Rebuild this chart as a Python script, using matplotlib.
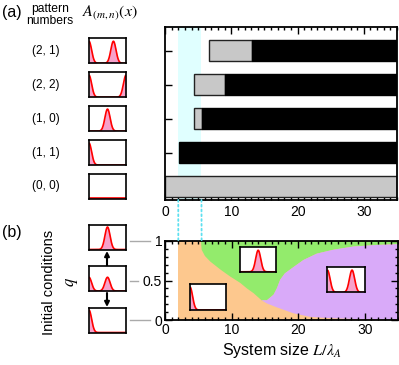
import numpy as np
import matplotlib
matplotlib.use("Agg")
import matplotlib.pyplot as plt
from matplotlib.patches import ConnectionPatch
from matplotlib.ticker import MultipleLocator

plt.rcParams["font.family"] = ["Liberation Sans", "DejaVu Sans"]
plt.rcParams["mathtext.fontset"] = "stix"

# ---------------- data ---------------- #
pattern_labels = ["(2, 1)", "(2, 2)", "(1, 0)", "(1, 1)", "(0, 0)"]
row_pos = [4, 3, 2, 1, 0]
gray_start = [6.6, 4.3, 4.3, np.nan, 0.0]
gray_end = [13.1, 9.0, 5.55, np.nan, 35.0]
black_start = [13.1, 9.0, 5.55, 2.1, np.nan]
x_max = 35.0
band = (2.0, 5.5)

# peak positions (fraction of box) for each pattern icon
pattern_peaks = [[0.0, 0.66], [0.0, 1.0], [0.5], [0.0], []]

# phase diagram boundaries (x = L/lambda_A, q)
og_x = [5.4, 5.5, 6.0, 6.8, 8.3, 9.8, 11.3, 12.3, 13.3, 14.5]
og_q = [1.0, 0.89, 0.81, 0.74, 0.64, 0.55, 0.47, 0.40, 0.34, 0.25]
gp_x = [14.5, 15.3, 16.3, 16.8, 17.3, 18.0, 19.3, 20.8, 22.8, 25.3, 28.3, 31.8, 35.0]
gp_q = [0.25, 0.25, 0.32, 0.40, 0.51, 0.59, 0.67, 0.76, 0.84, 0.89, 0.93, 0.95, 0.96]
op_x = [14.5, 15.3, 16.8, 19.3, 21.8, 24.3, 29.3, 35.0]
op_q = [0.25, 0.21, 0.16, 0.085, 0.04, 0.025, 0.01, 0.0]
orange_start = 2.0

# initial-condition icons, q ticks
q_ticks = [1.0, 0.5, 0.0]
q_tick_labels = ["1", "0.5", "0"]
init_peaks = [[0.5], [0.0, 0.5], [0.0]]
init_heights = [0.9, 0.55, 0.9]

C_ORANGE = "#FDC88E"
C_GREEN = "#93EB6C"
C_PURPLE = "#D9AAF9"
C_BAND = "#E0FFFF"
C_CYAN = "#5EE0F0"

W, H = 399, 365


def px(x, y):
    return x / W, 1 - y / H


def icon(fig, rect, peaks, height=0.88, flat=False):
    ax = fig.add_axes(rect)
    xs = np.linspace(0, 1, 200)
    ys = np.zeros_like(xs)
    for p in peaks:
        ys = ys + height * np.exp(-((xs - p) ** 2) / (2 * 0.07 ** 2))
    if flat:
        ys = ys + 0.03
    ax.fill_between(xs, 0, ys, color="#F7A1CB", lw=0)
    ax.plot(xs, ys, color="red", lw=1.2, solid_capstyle="butt")
    ax.set_xlim(0, 1)
    ax.set_ylim(0, 1)
    ax.set_xticks([])
    ax.set_yticks([])
    for s in ax.spines.values():
        s.set_linewidth(1.2)
    return ax


fig = plt.figure(figsize=(W / 100, H / 100), dpi=100)

# ---------------- (a) ---------------- #
ax1 = fig.add_axes([165 / W, 1 - 200 / H, 232 / W, 173 / H])
ax1.axvspan(*band, color=C_BAND, lw=0, zorder=0)
for y, gs, ge, bs in zip(row_pos, gray_start, gray_end, black_start):
    if not np.isnan(gs):
        ax1.barh(y, ge - gs, left=gs, height=0.62, color="#C8C8C8",
                 edgecolor="#222222", lw=1.0, zorder=2)
    if not np.isnan(bs):
        ax1.barh(y, x_max - bs, left=bs, height=0.62, color="black",
                 edgecolor="black", lw=1.0, zorder=2)
ax1.set_xlim(0, x_max)
ax1.set_ylim(-0.4, 4.7)
ax1.set_yticks(row_pos)
ax1.set_yticklabels([])
ax1.set_xticks([0, 10, 20, 30])
ax1.xaxis.set_minor_locator(MultipleLocator(1))
ax1.tick_params(axis="x", which="both", direction="in", top=True, labelsize=10)
ax1.tick_params(axis="x", which="major", length=5, width=1)
ax1.tick_params(axis="x", which="minor", length=2.5, width=1)
ax1.tick_params(axis="y", direction="in", length=5, width=1)
for s in ax1.spines.values():
    s.set_linewidth(1.3)

fig.text(*px(2, 13), "(a)", fontsize=11.5, ha="left", va="center")
fig.text(*px(50, 15), "pattern\nnumbers", fontsize=8.7, ha="center", va="center",
         linespacing=1.0)
fig.text(*px(110, 13), r"$A_{(m,n)}(x)$", fontsize=11.5, ha="center", va="center")

to_fig = fig.transFigure.inverted()
for lab, y, peaks in zip(pattern_labels, row_pos, pattern_peaks):
    _, yc = to_fig.transform(ax1.transData.transform((0, y)))
    fig.text(46 / W, yc, lab, fontsize=8.5, ha="center", va="center")
    icon(fig, [89 / W, yc - 12.5 / H, 37 / W, 25 / H], peaks,
         flat=(len(peaks) == 0))

# ---------------- (b) ---------------- #
ax2 = fig.add_axes([165 / W, 1 - 320 / H, 233 / W, 79 / H])
ax2.fill_between([orange_start, x_max], 0, 1, color=C_ORANGE, lw=0, zorder=0)
gx = og_x + gp_x[1:] + [x_max, og_x[0]]
gq = og_q + gp_q[1:] + [1.0, 1.0]
ax2.fill(gx, gq, color=C_GREEN, lw=0, zorder=1)
ppx = op_x + gp_x[::-1]
ppq = op_q + gp_q[::-1]
ax2.fill(ppx, ppq, color=C_PURPLE, lw=0, zorder=1)
ax2.set_xlim(0, x_max)
ax2.set_ylim(0, 1)
ax2.set_xticks([0, 10, 20, 30])
ax2.set_yticks(q_ticks)
ax2.set_yticklabels(q_tick_labels)
ax2.xaxis.set_minor_locator(MultipleLocator(1))
ax2.yaxis.set_minor_locator(MultipleLocator(0.1))
ax2.tick_params(which="both", direction="in", top=True, right=True, labelsize=10)
ax2.tick_params(which="major", length=5, width=1, pad=2)
ax2.tick_params(which="minor", length=2.5, width=1)
for s in ax2.spines.values():
    s.set_linewidth(1.3)
    s.set_zorder(5)
ax2.set_xlabel(r"System size $L/\lambda_A$", fontsize=11.5, labelpad=3)

# icons inside phase diagram
for bounds, peaks in [((3.76, 0.127, 5.44, 0.33), [0.0]),
                      ((11.3, 0.61, 5.4, 0.31), [0.5]),
                      ((24.4, 0.35, 5.6, 0.32), [0.0, 0.66])]:
    x0, y0 = to_fig.transform(ax2.transData.transform(bounds[:2]))
    x1, y1 = to_fig.transform(ax2.transData.transform(
        (bounds[0] + bounds[2], bounds[1] + bounds[3])))
    icon(fig, [x0, y0, x1 - x0, y1 - y0], peaks)

# cyan dotted guides between panels
for xv in band:
    con = ConnectionPatch(xyA=(xv, -0.4), coordsA=ax1.transData,
                          xyB=(xv, 1.0), coordsB=ax2.transData,
                          color=C_CYAN, lw=1.3, ls=":")
    fig.add_artist(con)

# initial condition icons
fig.text(*px(2, 232), "(b)", fontsize=11.5, ha="left", va="center")
fig.text(*px(49, 282), "Initial conditions", fontsize=10.5, rotation=90,
         ha="center", va="center")
fig.text(*px(72, 282), r"$q$", fontsize=12, rotation=90, ha="center", va="center")
for q, peaks, h, gx0, dy in zip(q_ticks, init_peaks, init_heights,
                                [150, 138, 150], [4, 2, 0]):
    _, yc = to_fig.transform(ax2.transData.transform((0, q)))
    icon(fig, [89 / W, yc + (dy - 12.5) / H, 37 / W, 25 / H], peaks, height=h)
    fig.add_artist(plt.Line2D([130 / W, gx0 / W], [yc, yc], color="#AAAAAA",
                              lw=1.0, transform=fig.transFigure))

ax2.annotate("", xy=(107, H - 251), xytext=(107, H - 266),
             xycoords="figure pixels", textcoords="figure pixels",
             arrowprops=dict(arrowstyle="-|>", color="black", lw=1.5,
                             mutation_scale=7, shrinkA=0, shrinkB=0))
ax2.annotate("", xy=(107, H - 307), xytext=(107, H - 293),
             xycoords="figure pixels", textcoords="figure pixels",
             arrowprops=dict(arrowstyle="-|>", color="black", lw=1.5,
                             mutation_scale=7, shrinkA=0, shrinkB=0))

fig.savefig("out.png", dpi=100)
